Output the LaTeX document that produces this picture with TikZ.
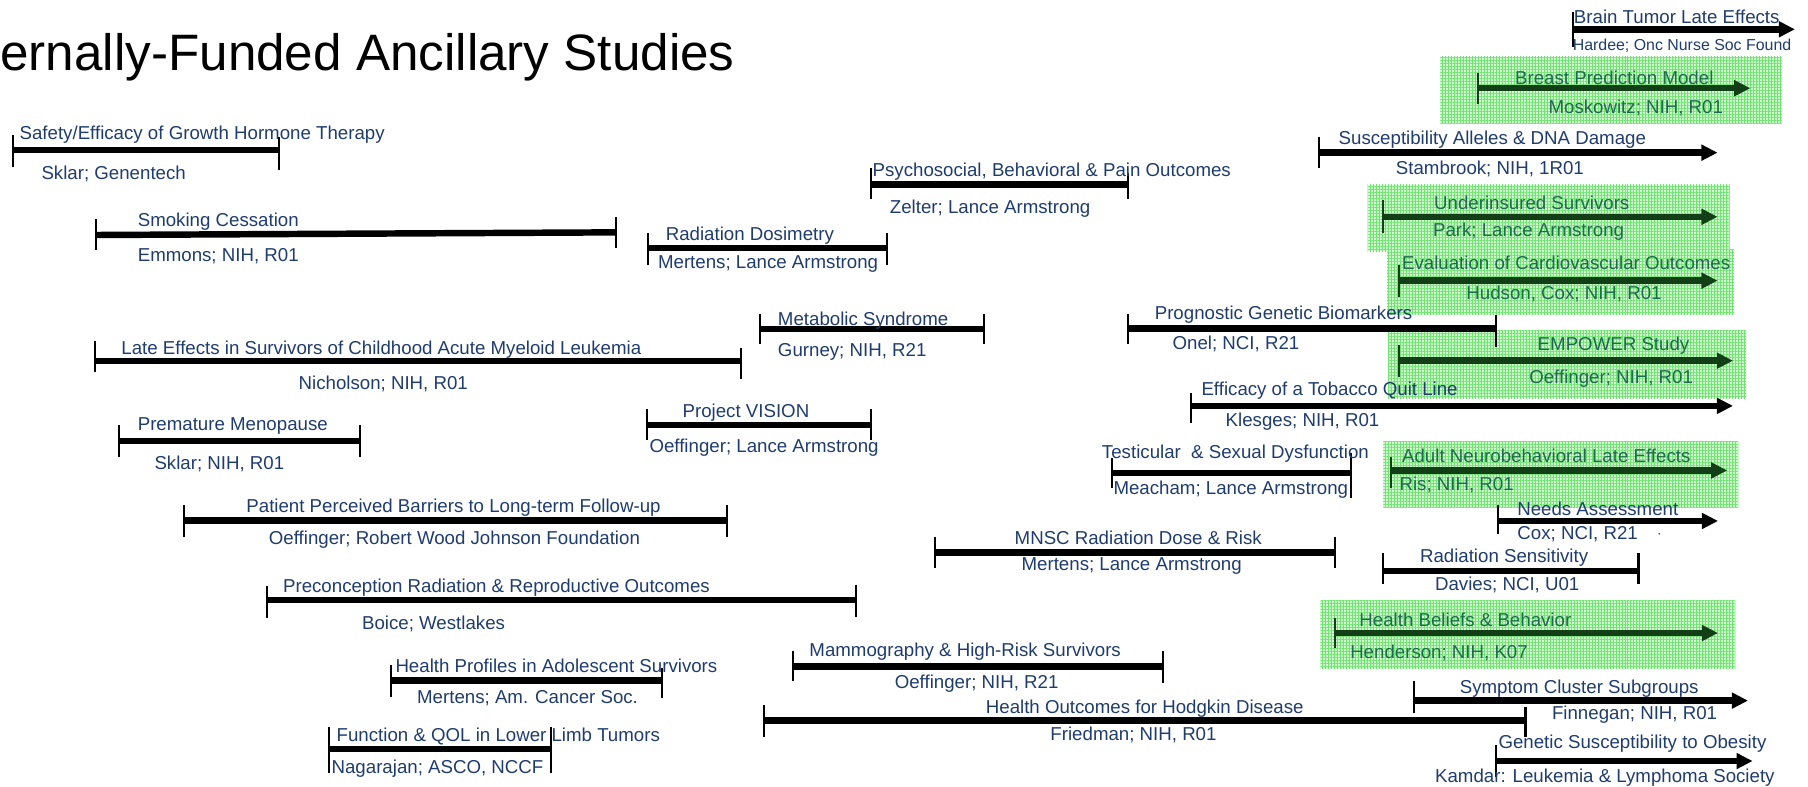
\documentclass[tikz,border=0pt]{standalone}
\usepackage{fontspec}
\setmainfont{Liberation Sans}
\usetikzlibrary{arrows.meta,calc,patterns.meta}
\definecolor{navy}{HTML}{1F3C6E}
\definecolor{tealtext}{HTML}{1E6A4E}
\definecolor{dgreen}{HTML}{123F16}
\definecolor{boxgreen}{HTML}{D2F9D2}
\definecolor{gridgreen}{HTML}{70E470}
\newcommand\labfont{\fontsize{8.1}{9.7}\selectfont}
\newcommand\smfont{\fontsize{6.9}{8.2}\selectfont}
\newcommand\ttlfont{\fontsize{22.2}{27}\selectfont}
\newcommand\tkm[4][tk]{\draw[#1] ($(#2)+(0,#3)$) -- ($(#2)+(0,#4)$);}
\begin{document}
\begin{tikzpicture}[x=0.5pt,y=-0.5pt,
 bar/.style={line width=2.8pt,black},
 arr/.style={line width=2.8pt,black,-{Triangle[length=7pt,width=6.6pt]}},
 tk/.style={line width=0.9pt,black},
 lab/.style={anchor=base west,inner sep=0pt,outer sep=0pt,text=navy,font=\labfont},
 sub/.style={lab,font=\smfont},
 glab/.style={lab,text=tealtext},
 garr/.style={arr,draw=dgreen,fill=dgreen},
 gtk/.style={tk,draw=dgreen},
 gbox/.style={fill=boxgreen,draw=none,
   postaction={pattern={Hatch[angle=0,distance=1.3pt,line width=0.35pt]},pattern color=gridgreen}}]
\useasboundingbox (0,0) rectangle (1568,682);

% green highlight boxes
\path[gbox] (1249,49) rectangle (1545,107);
\path[gbox] (1186,160.4) rectangle (1500,218);
\path[gbox] (1202.7,216) rectangle (1503.6,273);
\path[gbox] (1203.8,287) rectangle (1514,345.4);
\path[gbox] (1199.4,382.5) rectangle (1507.5,440);
\path[gbox] (1145,521) rectangle (1505,580);

% title
\node[anchor=base west,inner sep=0pt,font=\ttlfont] (title) at (0,61) {ernally-Funded Ancillary Studies};

% A Safety/Efficacy
\coordinate (aL) at (11,130); \coordinate (aR) at (242,130);
\draw[bar] (aL) -- (aR); \tkm{aL}{-13}{15} \tkm{aR}{-11}{17}
\node[lab] (aT) at (17,121.4) {Safety/Efficacy of Growth Hormone Therapy};
\node[lab] (aB) at (36,156) {Sklar; Genentech};

% B Smoking
\coordinate (bL) at (83,203.8); \coordinate (bR) at (534,201.5);
\draw[bar] (bL) -- (bR); \tkm{bL}{-14}{13} \tkm{bR}{-13}{14}
\node[lab] (bT) at (119.5,196.6) {Smoking Cessation};
\node[lab] (bB) at (119.5,227) {Emmons; NIH, R01};

% C Radiation Dosimetry
\coordinate (cL) at (562,215); \coordinate (cR) at (769,215);
\draw[bar] (cL) -- (cR); \tkm{cL}{-13}{15} \tkm{cR}{-13}{15}
\node[lab] (cT) at (577.4,208.7) {Radiation Dosimetry};
\node[lab] (cB) at (570.7,232.7) {Mertens; Lance Armstrong};

% D Psychosocial
\coordinate (dL) at (755,160); \coordinate (dR) at (978,160);
\draw[bar] (dL) -- (dR); \tkm{dL}{-14}{13} \tkm{dR}{-10}{13}
\node[lab] (dT) at (756.8,153.2) {Psychosocial, Behavioral \& Pain Outcomes};
\node[lab] (dB) at (771.8,185) {Zelter; Lance Armstrong};

% E Metabolic
\coordinate (eL) at (659,285.5); \coordinate (eR) at (853,285.5);
\draw[bar] (eL) -- (eR); \tkm{eL}{-13.5}{13} \tkm{eR}{-13.5}{12.5}
\node[lab] (eT) at (674.7,281.9) {Metabolic Syndrome};
\node[lab] (eB) at (674.7,309.3) {Gurney; NIH, R21};

% F AML
\coordinate (fL) at (82.3,313); \coordinate (fR) at (643,313);
\draw[bar] (fL) -- (fR); \tkm{fL}{-17}{10} \tkm{fR}{-11}{16}
\node[lab] (fT) at (105.3,307) {Late Effects in Survivors of Childhood Acute Myeloid Leukemia};
\node[lab] (fB) at (259,338) {Nicholson; NIH, R01};

% G Project VISION
\coordinate (gL) at (561,368.6); \coordinate (gR) at (755,368.6);
\draw[bar] (gL) -- (gR); \tkm{gL}{-14}{13} \tkm{gR}{-14}{13}
\node[lab] (gT) at (592,362) {Project VISION};
\node[lab] (gB) at (563.3,392.6) {Oeffinger; Lance Armstrong};

% H Premature Menopause
\coordinate (hL) at (103,382.5); \coordinate (hR) at (312,382.5);
\draw[bar] (hL) -- (hR); \tkm{hL}{-14}{13.5} \tkm{hR}{-14}{13.5}
\node[lab] (hT) at (119.5,373.5) {Premature Menopause};
\node[lab] (hB) at (134,407) {Sklar; NIH, R01};

% I Barriers
\coordinate (iL) at (159.3,451.5); \coordinate (iR) at (630.5,451.5);
\draw[bar] (iL) -- (iR); \tkm{iL}{-13.5}{14} \tkm{iR}{-13.5}{14}
\node[lab] (iT) at (213.7,444.6) {Patient Perceived Barriers to Long-term Follow-up};
\node[lab] (iB) at (233.2,472) {Oeffinger; Robert Wood Johnson Foundation};

% J Preconception
\coordinate (jL) at (231.4,520.5); \coordinate (jR) at (742.4,520.5);
\draw[bar] (jL) -- (jR); \tkm{jL}{-12}{15.5} \tkm{jR}{-13.5}{14.5}
\node[lab] (jT) at (245.5,514) {Preconception Radiation \& Reproductive Outcomes};
\node[lab] (jB) at (314,545.6) {Boice; Westlakes};

% K Health Profiles
\coordinate (kL) at (339,590); \coordinate (kR) at (574.3,590);
\draw[bar] (kL) -- (kR); \tkm{kL}{-13}{14.5} \tkm{kR}{-10.5}{15.5}
\node[lab] (kT) at (343,583) {Health Profiles in Adolescent Survivors};
\node[lab] (kB) at (361.8,610) {Mertens; Am. Cancer Soc.};

% L Function & QOL
\coordinate (lL) at (285.4,649.6); \coordinate (lR) at (478,649.6);
\draw[bar] (lL) -- (lR); \tkm{lL}{-19}{21} \tkm{lR}{-19}{21}
\node[lab] (lT) at (292,643) {Function \& QOL in Lower Limb Tumors};
\node[lab] (lB) at (287.6,670.5) {Nagarajan; ASCO, NCCF};

% M Mammography
\coordinate (mL) at (688,578); \coordinate (mR) at (1008.6,578);
\draw[bar] (mL) -- (mR); \tkm{mL}{-13}{13} \tkm{mR}{-13}{14}
\node[lab] (mT) at (702,569.5) {Mammography \& High-Risk Survivors};
\node[lab] (mB) at (776,597) {Oeffinger; NIH, R21};

% N Hodgkin
\coordinate (nL) at (662.7,625); \coordinate (nR) at (1323,625);
\draw[bar] (nL) -- (nR); \tkm{nL}{-13.5}{14} \tkm{nR}{-12}{14}
\node[lab] (nT) at (855,619) {Health Outcomes for Hodgkin Disease};
\node[lab] (nB) at (911,642) {Friedman; NIH, R01};

% O MNSC
\coordinate (oL) at (811,479.3); \coordinate (oR) at (1158,479.3);
\draw[bar] (oL) -- (oR); \tkm{oL}{-14}{13.4} \tkm{oR}{-14}{13.4}
\node[lab] (oT) at (880,472) {MNSC Radiation Dose \& Risk};
\node[lab] (oB) at (886,495) {Mertens; Lance Armstrong};

% P Testicular
\coordinate (pL) at (964,410); \coordinate (pR) at (1171.5,410);
\draw[bar] (pL) -- (pR); \tkm{pL}{-13}{13} \tkm{pR}{-17}{22}
\node[lab] (pT) at (955.7,398) {Testicular~~\& Sexual Dysfunction};
\node[lab] (pB) at (965.7,429) {Meacham; Lance Armstrong};

% Q Prognostic
\coordinate (qL) at (978,285); \coordinate (qR) at (1297.5,285);
\draw[bar] (qL) -- (qR); \tkm{qL}{-13}{13} \tkm{qR}{-12}{16}
\node[lab] (qT) at (1001.5,277.5) {Prognostic Genetic Biomarkers};
\node[lab] (qB) at (1017,303.5) {Onel; NCI, R21};

% R Tobacco
\coordinate (rL) at (1032.6,352); \coordinate (rR) at (1503,352);
\draw[arr] (rL) -- (rR); \tkm{rL}{-11}{15}
\node[lab] (rT) at (1042,342.6) {Efficacy of a Tobacco Quit Line};
\node[lab] (rB) at (1063,370) {Klesges; NIH, R01};

% S Susceptibility
\coordinate (sL) at (1144,132.4); \coordinate (sR) at (1489.6,132.4);
\draw[arr] (sL) -- (sR); \tkm{sL}{-14}{13.6}
\node[lab] (sT) at (1161,125) {Susceptibility Alleles \& DNA Damage};
\node[lab] (sB) at (1210.6,151) {Stambrook; NIH, 1R01};

% T Brain Tumor
\coordinate (tL) at (1364.4,25.4); \coordinate (tR) at (1556.7,25.4);
\draw[arr] (tL) -- (tR); \tkm{tL}{-15.4}{15}
\node[lab] (tT) at (1365,20.2) {Brain Tumor Late Effects};
\node[sub] (tB) at (1364,43.4) {Hardee; Onc Nurse Soc Found};

% U Breast (green)
\coordinate (uL) at (1282,76.5); \coordinate (uR) at (1518,76.5);
\draw[garr] (uL) -- (uR); \tkm[gtk]{uL}{-13.5}{13.5}
\node[glab] (uT) at (1314,73) {Breast Prediction Model};
\node[glab] (uB) at (1343,98) {Moskowitz; NIH, R01};

% V Underinsured (green)
\coordinate (vL) at (1199.4,188); \coordinate (vR) at (1489.6,188);
\draw[garr] (vL) -- (vR); \tkm[gtk]{vL}{-14.5}{13.8}
\node[glab] (vT) at (1243.8,181.5) {Underinsured Survivors};
\node[glab] (vB) at (1242.8,204.7) {Park; Lance Armstrong};

% W Cardiovascular (green)
\coordinate (wL) at (1213,243.4); \coordinate (wR) at (1489.6,243.4);
\draw[garr] (wL) -- (wR); \tkm[gtk]{wL}{-13.6}{14}
\node[glab] (wT) at (1216,234) {Evaluation of Cardiovascular Outcomes};
\node[glab] (wB) at (1271.8,260) {Hudson, Cox; NIH, R01};

% X EMPOWER (green)
\coordinate (xL) at (1213,312.8); \coordinate (xR) at (1503,312.8);
\draw[garr] (xL) -- (xR); \tkm[gtk]{xL}{-13.8}{14}
\node[glab] (xT) at (1333.6,304) {EMPOWER Study};
\node[glab] (xB) at (1326.3,332.4) {Oeffinger; NIH, R01};

% Y Adult Neurobehavioral (green)
\coordinate (yL) at (1206.6,408); \coordinate (yR) at (1498,408);
\draw[garr] (yL) -- (yR); \tkm[gtk]{yL}{-12}{15.5}
\node[glab] (yT) at (1216,401) {Adult Neurobehavioral Late Effects};
\node[glab] (yB) at (1213.8,425) {Ris; NIH, R01};

% Z Needs Assessment
\coordinate (zL) at (1299.4,451.8); \coordinate (zR) at (1490,451.8);
\draw[arr] (zL) -- (zR); \tkm{zL}{-13.8}{11.6}
\node[lab] (zT) at (1315.9,447.2) {Needs Assessment};
\node[lab] (zB) at (1316,468.3) {Cox; NCI, R21};
\coordinate (dot) at (1439,463);
\fill[black] (dot) circle (0.7);

% AA Radiation Sensitivity
\coordinate (abL) at (1199.4,495); \coordinate (abR) at (1421,495);
\draw[bar] (abL) -- (abR); \tkm{abL}{-15}{11.5} \tkm{abR}{-15}{11.5}
\node[lab] (abT) at (1231.5,488) {Radiation Sensitivity};
\node[lab] (abB) at (1244.6,511.7) {Davies; NCI, U01};

% BB Health Beliefs (green)
\coordinate (bbL) at (1158,549); \coordinate (bbR) at (1490,549);
\draw[garr] (bbL) -- (bbR); \tkm[gtk]{bbL}{-13}{13}
\node[glab] (bbT) at (1179,543) {Health Beliefs \& Behavior};
\node[glab] (bbB) at (1171,571) {Henderson; NIH, K07};

% CC Symptom Cluster
\coordinate (ccL) at (1226,607.6); \coordinate (ccR) at (1516,607.6);
\draw[arr] (ccL) -- (ccR); \tkm{ccL}{-17}{10.4}
\node[lab] (ccT) at (1266,601) {Symptom Cluster Subgroups};
\node[lab] (ccB) at (1346,624.4) {Finnegan; NIH, R01};

% DD Genetic Obesity
\coordinate (ddL) at (1297.4,660); \coordinate (ddR) at (1520,660);
\draw[arr] (ddL) -- (ddR); \tkm{ddL}{-14}{14}
\node[lab] (ddT) at (1299.6,649) {Genetic Susceptibility to Obesity};
\node[lab] (ddB) at (1244.6,679) {Kamdar: Leukemia \& Lymphoma Society};
\end{tikzpicture}
\end{document}
